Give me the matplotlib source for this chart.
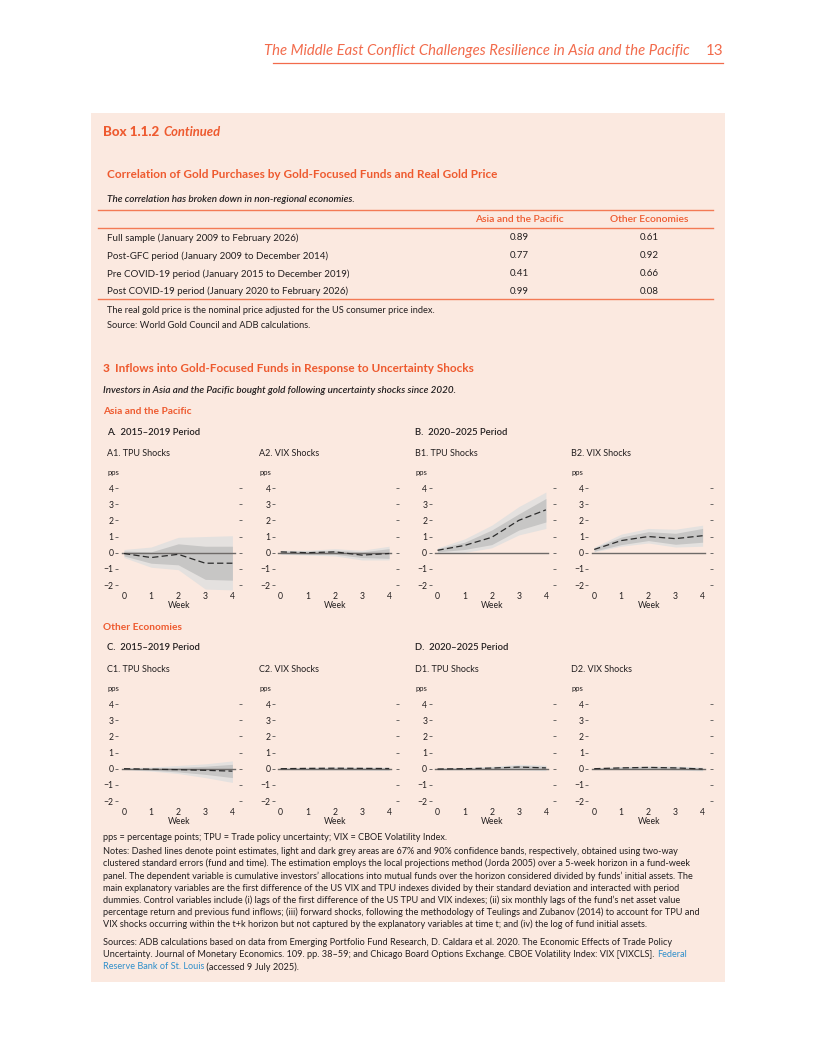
import matplotlib
matplotlib.use('Agg')
import matplotlib.pyplot as plt
from matplotlib.patches import Rectangle
from matplotlib.lines import Line2D

plt.rcParams['font.family'] = ['Lato', 'DejaVu Sans']

# --- table data ---
periods = ['Full sample (January 2009 to February 2026)',
           'Post-GFC period (January 2009 to December 2014)',
           'Pre COVID-19 period (January 2015 to December 2019)',
           'Post COVID-19 period (January 2020 to February 2026)']
asia_corr = [0.89, 0.77, 0.41, 0.99]
other_corr = [0.61, 0.92, 0.66, 0.08]

# --- impulse responses, weeks 0..4 (pps) ---
weeks = [0, 1, 2, 3, 4]
y_ticks = [-2, -1, 0, 1, 2, 3, 4]

a1_est = [-0.05, -0.3, -0.1, -0.65, -0.65]
a1_lo67 = [-0.2, -0.65, -0.75, -1.65, -1.7]
a1_hi67 = [0.1, 0.05, 0.55, 0.4, 0.4]
a1_lo90 = [-0.3, -0.9, -1.05, -2.25, -2.3]
a1_hi90 = [0.2, 0.35, 0.95, 1.0, 1.05]

a2_est = [0.05, 0.0, 0.05, -0.15, -0.05]
a2_lo67 = [-0.05, -0.1, -0.1, -0.3, -0.35]
a2_hi67 = [0.1, 0.1, 0.15, 0.05, 0.25]
a2_lo90 = [-0.1, -0.15, -0.2, -0.45, -0.45]
a2_hi90 = [0.15, 0.15, 0.25, 0.15, 0.4]

b1_est = [0.15, 0.45, 0.95, 2.0, 2.65]
b1_lo67 = [0.05, 0.2, 0.5, 1.4, 1.9]
b1_hi67 = [0.25, 0.65, 1.4, 2.4, 3.35]
b1_lo90 = [0.0, 0.02, 0.3, 1.1, 1.5]
b1_hi90 = [0.3, 0.85, 1.7, 2.85, 3.75]

b2_est = [0.2, 0.75, 1.0, 0.87, 1.05]
b2_lo67 = [0.1, 0.5, 0.75, 0.52, 0.65]
b2_hi67 = [0.3, 0.97, 1.3, 1.2, 1.5]
b2_lo90 = [0.05, 0.4, 0.6, 0.35, 0.4]
b2_hi90 = [0.35, 1.15, 1.5, 1.45, 1.7]

c1_est = [0.0, -0.03, -0.06, -0.1, -0.15]
c1_lo67 = [-0.03, -0.1, -0.2, -0.35, -0.55]
c1_hi67 = [0.03, 0.05, 0.08, 0.15, 0.27]
c1_lo90 = [-0.05, -0.15, -0.3, -0.55, -0.85]
c1_hi90 = [0.05, 0.1, 0.2, 0.3, 0.48]

c2_est = [0.0, 0.02, 0.03, 0.02, 0.01]
c2_lo67 = [-0.03, -0.04, -0.04, -0.05, -0.06]
c2_hi67 = [0.03, 0.06, 0.08, 0.07, 0.07]
c2_lo90 = [-0.05, -0.07, -0.07, -0.09, -0.1]
c2_hi90 = [0.05, 0.09, 0.11, 0.1, 0.1]

d1_est = [-0.02, 0.0, 0.04, 0.1, 0.05]
d1_lo67 = [-0.05, -0.04, -0.02, 0.0, -0.05]
d1_hi67 = [0.02, 0.05, 0.1, 0.2, 0.15]
d1_lo90 = [-0.07, -0.07, -0.07, -0.08, -0.12]
d1_hi90 = [0.04, 0.08, 0.15, 0.27, 0.22]

d2_est = [0.0, 0.05, 0.08, 0.05, -0.02]
d2_lo67 = [-0.03, 0.0, 0.02, -0.03, -0.08]
d2_hi67 = [0.03, 0.1, 0.13, 0.11, 0.06]
d2_lo90 = [-0.05, -0.03, -0.03, -0.08, -0.13]
d2_hi90 = [0.05, 0.13, 0.17, 0.16, 0.1]

panel_titles = [['A1. TPU Shocks', 'A2. VIX Shocks', 'B1. TPU Shocks', 'B2. VIX Shocks'],
                ['C1. TPU Shocks', 'C2. VIX Shocks', 'D1. TPU Shocks', 'D2. VIX Shocks']]
panels = [[(a1_est, a1_lo67, a1_hi67, a1_lo90, a1_hi90),
           (a2_est, a2_lo67, a2_hi67, a2_lo90, a2_hi90),
           (b1_est, b1_lo67, b1_hi67, b1_lo90, b1_hi90),
           (b2_est, b2_lo67, b2_hi67, b2_lo90, b2_hi90)],
          [(c1_est, c1_lo67, c1_hi67, c1_lo90, c1_hi90),
           (c2_est, c2_lo67, c2_hi67, c2_lo90, c2_hi90),
           (d1_est, d1_lo67, d1_hi67, d1_lo90, d1_hi90),
           (d2_est, d2_lo67, d2_hi67, d2_lo90, d2_hi90)]]

notes = [
    'Notes: Dashed lines denote point estimates, light and dark grey areas are 67% and 90% confidence bands, respectively, obtained using two-way',
    'clustered standard errors (fund and time). The estimation employs the local projections method (Jorda 2005) over a 5-week horizon in a fund-week',
    'panel. The dependent variable is cumulative investors\u2019 allocations into mutual funds over the horizon considered divided by funds\u2019 initial assets. The',
    'main explanatory variables are the first difference of the US VIX and TPU indexes divided by their standard deviation and interacted with period',
    'dummies. Control variables include (i) lags of the first difference of the US TPU and VIX indexes; (ii) six monthly lags of the fund\u2019s net asset value',
    'percentage return and previous fund inflows; (iii) forward shocks, following the methodology of Teulings and Zubanov (2014) to account for TPU and',
    'VIX shocks occurring within the t+k horizon but not captured by the explanatory variables at time t; and (iv) the log of fund initial assets.',
]

ORANGE = '#EE5A2F'
HEAD = '#F26B4C'
PINK = '#FBE9E0'
INK = '#231F20'
LINK = '#2F8FCB'
LIGHT = '#E4E1DF'
DARK = '#C7C6C5'

W, H = 816, 1056
fig = plt.figure(figsize=(8.16, 10.56), dpi=100)
renderer = fig.canvas.get_renderer()


def fx(x):
    return x / W


def fy(y):
    return 1 - y / H


def txt(x, y, s, size=7.0, color=INK, **kw):
    return fig.text(fx(x), fy(y), s, fontsize=size, color=color, va='center', **kw)


def after(t, s, gap=0, size=7.0, color=INK, **kw):
    bb = t.get_window_extent(renderer)
    return fig.text((bb.x1 + gap) / W, t.get_position()[1], s, fontsize=size,
                    color=color, va='center', **kw)


def hline(x1, x2, y, color, lw=0.8):
    fig.add_artist(Line2D([fx(x1), fx(x2)], [fy(y), fy(y)], color=color, lw=lw))


# page header
txt(690, 51, 'The Middle East Conflict Challenges Resilience in Asia and the Pacific',
    size=10.7, color=HEAD, style='italic', ha='right')
txt(723, 51, '13', size=10.8, color=HEAD, ha='right')
hline(273, 723, 62.5, HEAD, 0.9)

# box background
fig.add_artist(Rectangle((fx(91), fy(982)), (725 - 91) / W, (982 - 113) / H,
                         transform=fig.transFigure, facecolor=PINK,
                         edgecolor='none', zorder=-10))

t = txt(103, 132, 'Box 1.1.2', size=9.6, color=ORANGE, weight='black')
after(t, 'Continued', gap=4, size=9.4, color=ORANGE, weight='bold', style='italic')

# correlation table
txt(107, 174, 'Correlation of Gold Purchases by Gold-Focused Funds and Real Gold Price',
    size=8.5, color=ORANGE, weight='bold')
txt(107, 199, 'The correlation has broken down in non-regional economies.',
    size=7.1, style='italic', weight='semibold')
hline(98, 713, 210, '#F37A55', 1.0)
txt(519, 220, 'Asia and the Pacific', size=7.4, color=ORANGE, ha='center', weight='semibold')
txt(649, 220, 'Other Economies', size=7.4, color=ORANGE, ha='center', weight='semibold')
hline(98, 713, 228.5, '#F37A55', 1.0)
for i, p in enumerate(periods):
    y = 238 + 17.9 * i
    txt(107, y, p)
    txt(519, y, f'{asia_corr[i]:.2f}', ha='center')
    txt(649, y, f'{other_corr[i]:.2f}', ha='center')
hline(98, 713, 299, '#F37A55', 1.0)
txt(107, 311, 'The real gold price is the nominal price adjusted for the US consumer price index.', size=6.65)
txt(107, 326, 'Source: World Gold Council and ADB calculations.', size=6.65)

# figure 3 headings
t = txt(103, 368, '3', size=8.5, color=ORANGE, weight='black')
after(t, 'Inflows into Gold-Focused Funds in Response to Uncertainty Shocks', gap=5,
      size=8.5, color=ORANGE, weight='bold')
txt(103, 390, 'Investors in Asia and the Pacific bought gold following uncertainty shocks since 2020.',
    size=7.1, style='italic', weight='semibold')
txt(103, 411, 'Asia and the Pacific', size=7.3, color=ORANGE, weight='bold')
txt(103, 627, 'Other Economies', size=7.3, color=ORANGE, weight='bold')
txt(107, 432, 'A.  2015\u20132019 Period', size=6.8, weight='semibold')
txt(415, 432, 'B.  2020\u20132025 Period', size=6.8, weight='semibold')
txt(107, 648, 'C.  2015\u20132019 Period', size=6.8, weight='semibold')
txt(415, 648, 'D.  2020\u20132025 Period', size=6.8, weight='semibold')

title_x = [107, 259, 415, 571]
week0_x = [124, 280.7, 437.5, 594.2]
zero_y = [552.7, 768.7]
px_week = 27.1
px_unit = 16.17
x_min, x_max = -0.22, 4.26
y_min, y_max = -2.3, 4.3

for r in range(2):
    for c in range(4):
        est, lo67, hi67, lo90, hi90 = panels[r][c]
        txt(title_x[c], zero_y[r] - 99.7, panel_titles[r][c], size=6.5)
        txt(title_x[c], zero_y[r] - 80.7, 'pps', size=5.6)

        left = week0_x[c] + x_min * px_week
        right = week0_x[c] + x_max * px_week
        top = zero_y[r] - y_max * px_unit
        bottom = zero_y[r] - y_min * px_unit
        ax = fig.add_axes([fx(left), fy(bottom), (right - left) / W, (bottom - top) / H])
        ax.set_facecolor('none')
        ax.fill_between(weeks, lo90, hi90, color=LIGHT, lw=0)
        ax.fill_between(weeks, lo67, hi67, color=DARK, lw=0)
        ax.axhline(0, xmin=0.03, xmax=0.96, color='#6E6A68', lw=1.0)
        ax.plot(weeks, est, color='#2B2B2B', lw=0.9, dashes=(5, 2.6))
        ax.set_xlim(x_min, x_max)
        ax.set_ylim(y_min, y_max)
        ax.set_xticks(weeks)
        ax.set_yticks(y_ticks)
        ax.set_xlabel('Week', fontsize=6.2, labelpad=0, color=INK)
        for s in ax.spines.values():
            s.set_visible(False)
        ax.tick_params(axis='y', left=True, right=True, labelright=False,
                       direction='out', length=2.5, width=0.6, color='#555555',
                       labelsize=6.2, pad=0.6, labelcolor=INK)
        ax.tick_params(axis='x', length=0, labelsize=6.2, pad=1.5, labelcolor=INK)

# notes and sources
txt(103, 838, 'pps = percentage points; TPU = Trade policy uncertainty; VIX = CBOE Volatility Index.', size=6.55)
for i, line in enumerate(notes):
    txt(103, 851.5 + 12.2 * i, line, size=6.55)
txt(103, 942.5, 'Sources: ADB calculations based on data from Emerging Portfolio Fund Research, D. Caldara et al. 2020. The Economic Effects of Trade Policy', size=6.55)
t = txt(103, 954.7, 'Uncertainty. Journal of Monetary Economics. 109. pp. 38\u201359; and Chicago Board Options Exchange. CBOE Volatility Index: VIX [VIXCLS]. ', size=6.55)
after(t, 'Federal', size=6.55, color=LINK)
t = txt(103, 966.9, 'Reserve Bank of St. Louis', size=6.55, color=LINK)
after(t, ' (accessed 9 July 2025).', size=6.55)

fig.savefig('out.png', dpi=100, facecolor='white')
